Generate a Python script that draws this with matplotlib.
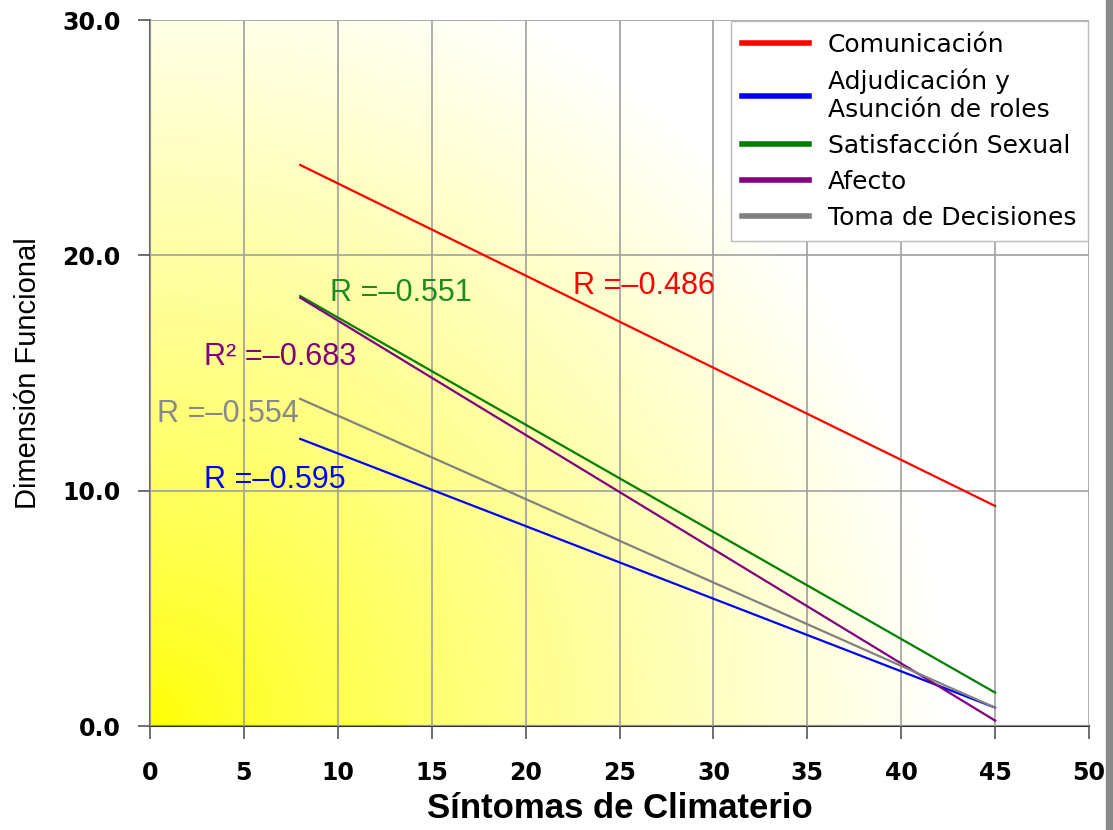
import numpy as np
import matplotlib.pyplot as plt
from matplotlib.patches import Rectangle

# Data: regression lines (start/end of fitted line) and correlation values
series = ['Comunicación', 'Adjudicación y\nAsunción de roles', 'Satisfacción Sexual',
          'Afecto', 'Toma de Decisiones']
x_line = [8, 45]
y_start = [23.84, 12.2, 18.27, 18.2, 13.9]
y_end = [9.35, 0.78, 1.42, 0.23, 0.78]
r_values = [-0.486, -0.595, -0.551, -0.683, -0.554]
r_prefix = ['R', 'R', 'R', 'R²', 'R']

line_colors = ['#ff0000', '#0000ff', '#008000', '#800080', '#808080']
text_colors = ['#ff0000', '#0000ff', '#1f8a1f', '#800080', '#888888']
text_pos = [(22.5, 18.7), (2.9, 10.45), (9.6, 18.4), (2.9, 15.7), (0.35, 13.25)]

fig = plt.figure(figsize=(11.13, 8.30), dpi=100)
ax = fig.add_axes([150 / 1113, 1 - 726 / 830, (1089 - 150) / 1113, (726 - 20) / 830])

# yellow -> white radial background from the lower left corner
nx, ny = 940, 706
px, py = np.meshgrid(np.arange(nx), np.arange(ny))
d = np.sqrt(px ** 2 + py ** 2) / 800.0
b = np.clip(d, 0, 1) ** 0.8
img = np.dstack([np.ones_like(b), np.ones_like(b), b])
ax.imshow(img, extent=[0, 50, 0, 30], origin='lower', aspect='auto', zorder=0)

for i, name in enumerate(series):
    ax.plot(x_line, [y_start[i], y_end[i]], color=line_colors[i], lw=1.6, zorder=3, label=name)

for i in range(len(series)):
    ax.text(text_pos[i][0], text_pos[i][1], f'{r_prefix[i]} =\u2013{abs(r_values[i]):.3f}',
            color=text_colors[i], fontsize=22, family='Liberation Sans',
            ha='left', va='center', zorder=4)

ax.set_xlim(0, 50)
ax.set_ylim(0, 30)
ax.set_xticks(np.arange(0, 51, 5))
ax.set_yticks([0, 10, 20, 30])
ax.set_yticklabels(['0.0', '10.0', '20.0', '30.0'])
ax.grid(True, color='#a0a0a0', lw=1.2, zorder=1)
ax.set_axisbelow(False)

ax.tick_params(axis='both', direction='out', length=9, width=1.2, color='#555555',
               labelsize=17)
ax.tick_params(axis='x', pad=16)
ax.tick_params(axis='y', pad=12)
for lab in ax.get_xticklabels() + ax.get_yticklabels():
    lab.set_family('DejaVu Sans')
    lab.set_fontweight('bold')
    lab.set_fontsize(17)

ax.spines['top'].set_visible(False)
ax.spines['right'].set_visible(False)
ax.spines['left'].set_color('#666666')
ax.spines['bottom'].set_color('#333333')
ax.spines['left'].set_linewidth(1.5)
ax.spines['bottom'].set_linewidth(1.5)

ax.set_xlabel('Síntomas de Climaterio', fontsize=25, fontweight='bold',
              family='Liberation Sans', labelpad=5)
ax.set_ylabel('Dimensión Funcional', fontsize=21, family='Liberation Sans', labelpad=15)

leg = ax.legend(loc='upper right', bbox_to_anchor=(1.0, 1.0), borderaxespad=0.05,
                prop={'family': 'DejaVu Sans', 'size': 18}, handlelength=2.7,
                handletextpad=0.75, labelspacing=0.48, fancybox=False,
                framealpha=1, edgecolor='#bbbbbb', borderpad=0.45)
leg.get_frame().set_linewidth(1.0)
for h in leg.get_lines():
    h.set_linewidth(4)
leg.set_zorder(5)

# gray border at the right edge of the picture
fig.patches.append(Rectangle((1106 / 1113, 0), 7 / 1113, 1, transform=fig.transFigure,
                             color='#888888', zorder=0))

fig.savefig('out.png', dpi=100)
